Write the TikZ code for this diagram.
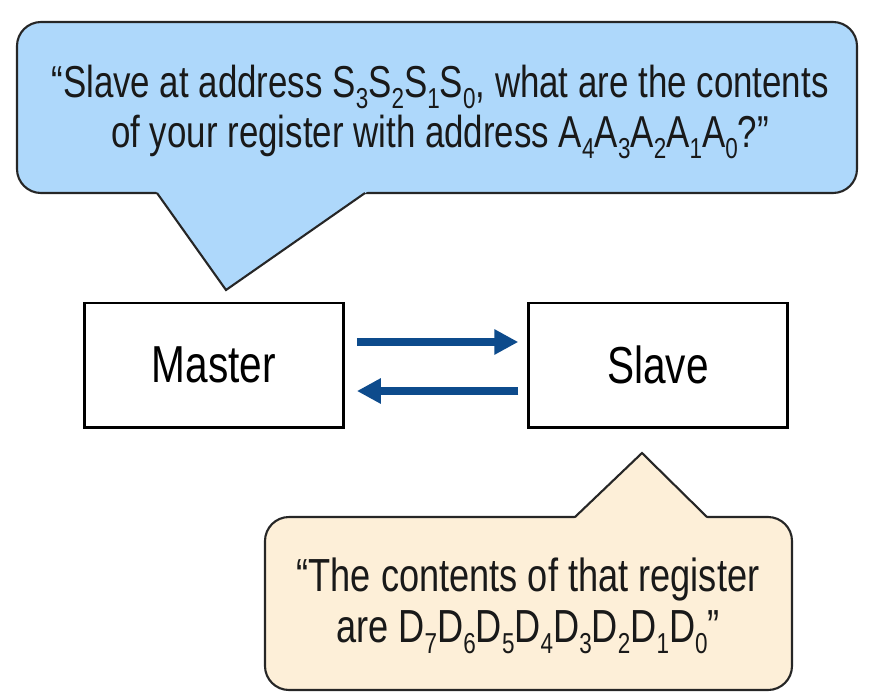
\documentclass[tikz,border=0pt]{standalone}
\usepackage{fontspec}
\setmainfont[FakeStretch=0.78]{Liberation Sans}
\usetikzlibrary{arrows.meta}
\definecolor{askblue}{HTML}{AED8FB}
\definecolor{replypeach}{HTML}{FDEFD8}
\definecolor{linkblue}{HTML}{0D4B8C}
\newcommand{\bitsub}[1]{\raisebox{-0.24em}{\fontsize{20.5}{20}\selectfont #1}}

\begin{document}
\begin{tikzpicture}[
  x=0.025cm,y=-0.025cm,
  bubble/.style={line width=1.5pt,draw=black!85,rounded corners=0.6cm},
  tail/.style={line width=1.5pt,draw=black!85,line join=miter},
  box/.style={draw,line width=2.1pt,minimum width=6.47cm,minimum height=3.1cm,font=\fontsize{37}{40}\selectfont},
  say/.style={font=\fontsize{31.8}{35.4}\selectfont,align=center,black!90},
  link/.style={-{Triangle[length=0.6cm,width=0.6cm]},line width=5pt,linkblue}
]
  \useasboundingbox (0,0) rectangle (882,699);

  % question bubble
  \filldraw[bubble,fill=askblue] (17,22) rectangle (857,193);
  \fill[askblue] (153,187) -- (226,290) -- (374,187) -- cycle;
  \draw[tail] (157,193) -- (226,290) -- (365,193);
  \node[say] (ask) at (440,112) {“Slave at address S\bitsub{3}S\bitsub{2}S\bitsub{1}S\bitsub{0}, what are the contents\\
    of your register with address A\bitsub{4}A\bitsub{3}A\bitsub{2}A\bitsub{1}A\bitsub{0}?”};

  % answer bubble
  \filldraw[bubble,fill=replypeach] (265,517) rectangle (792,690);
  \fill[replypeach] (571,522) -- (642,453) -- (711,522) -- cycle;
  \draw[tail] (575,517) -- (642,453) -- (707,517);
  \node[say,font=\fontsize{33}{36}\selectfont] (reply) at (528,606) {“The contents of that register\\
    are D\bitsub{7}D\bitsub{6}D\bitsub{5}D\bitsub{4}D\bitsub{3}D\bitsub{2}D\bitsub{1}D\bitsub{0}”};

  \node[box] (master) at (214,365) {Master};
  \node[box] (slave) at (658,365) {Slave};

  \draw[link,shorten <=0.3cm,shorten >=0.22cm] ([yshift=0.575cm]master.east) -- ([yshift=0.575cm]slave.west);
  \draw[link,shorten <=0.22cm,shorten >=0.3cm] ([yshift=-0.65cm]slave.west) -- ([yshift=-0.65cm]master.east);
\end{tikzpicture}
\end{document}
